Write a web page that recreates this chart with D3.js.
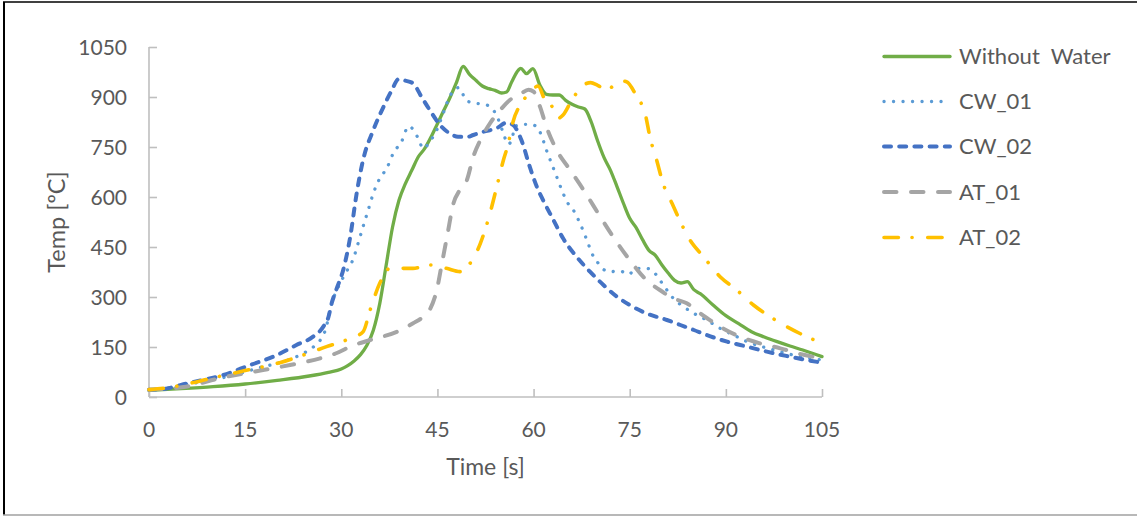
<!DOCTYPE html>
<html>
<head>
<meta charset="utf-8">
<script src="https://cdn.jsdelivr.net/npm/d3@7"></script>
<style>
  html, body { margin: 0; padding: 0; background: #fff; }
  svg { display: block; font-family: Lato, "Liberation Sans", sans-serif; }
</style>
</head>
<body>
<svg id="chart" width="1137" height="516"></svg>
<script>
// Temperature [ºC] against time [s] for each test, as [time, temperature] pairs.
const withoutWater = [[0,20],[5,25],[10,31],[15,39],[20,50],[25,63],[28,74],[30,84],[31,94],[32,108],[33,127],[34,155],[35,200],[36,280],[37,395],[38,510],[39,590],[40,640],[41,680],[42,720],[43,745],[44,780],[45,820],[46,860],[47,900],[48,945],[49,992],[50,968],[51,950],[52,933],[53,925],[54,920],[55,912],[55.8,915],[56.6,946],[57.6,980],[58,986],[58.9,970],[59.9,985],[61,935],[62,908],[63,906],[64,906],[65,890],[66,878],[67,870],[68,864],[69,825],[70,768],[71,718],[72,680],[73,632],[74,582],[75,536],[76,508],[77,472],[78,440],[79,425],[80,397],[81,372],[82,350],[83,342],[84,346],[85,322],[86,310],[88,276],[90,244],[92,220],[94,196],[96,180],[98,166],[100,153],[102,141],[105,121]];
const cw01 = [[0,22],[3,27],[6,38],[9,48],[12,60],[15,75],[17,87],[19.4,98],[22,113],[24,130],[25.5,148],[26.7,170],[27.5,200],[28.5,280],[29.8,341],[30.8,376],[31.9,416],[32.7,466],[33.4,511],[34.2,561],[35,611],[36,656],[37.1,686],[38.1,731],[39.4,766],[40.5,812],[41.2,803],[42,776],[42.8,745],[43.8,766],[44.9,801],[45.9,851],[46.9,901],[48.3,928],[49.6,888],[51.1,881],[52.7,876],[54.2,846],[55.3,791],[56,758],[56.6,771],[57.1,812],[58.4,818],[59.4,818],[60.5,811],[61.3,781],[62,741],[62.8,701],[63.6,661],[64.4,621],[65.2,586],[66.2,561],[67,531],[67.8,496],[68.5,461],[69.1,431],[70.1,401],[70.9,383],[71.9,376],[73.5,378],[74.8,368],[76.1,386],[77.6,386],[78.7,376],[79.7,351],[80.8,321],[81.8,296],[83.4,271],[85,251],[87,231],[89.1,206],[91.2,186],[93.3,166],[95.3,153],[98.5,136],[101.6,121],[105,111]];
const cw02 = [[0,22],[1.7,23],[6.4,43],[11.6,66],[15.8,96],[19.4,121],[23,156],[25.6,181],[27.2,211],[28,240],[28.5,281],[29.2,321],[30.3,381],[31.4,481],[32.4,611],[33.4,711],[35,801],[36.6,871],[37.9,921],[38.9,953],[40,949],[41.2,941],[42.5,901],[43.8,861],[45.4,816],[46.9,791],[48.2,781],[49.6,780],[50.6,786],[52.2,796],[54.2,806],[55.8,823],[56.8,816],[58.1,771],[59.4,691],[60.5,631],[61.5,590],[63.1,531],[64.6,476],[66.7,421],[68.8,376],[70.9,336],[73,301],[75,276],[77.6,251],[80.8,231],[82.9,216],[85,201],[87,186],[90.2,166],[93.3,151],[96.4,136],[99.5,123],[102.6,111],[105,103]];
const at01 = [[0,22],[5.4,30],[11.6,59],[17.8,81],[22,96],[26.7,116],[29.3,132],[31.4,151],[34.5,171],[38.7,196],[41.2,221],[42.8,241],[43.8,262],[44.9,321],[45.7,401],[46.5,481],[47.5,581],[48.5,621],[49.6,651],[50.6,721],[51.7,771],[53.2,821],[54.8,861],[56.3,891],[58.1,911],[59.2,922],[60,916],[61,871],[62,811],[63.6,741],[65.7,681],[67.8,621],[70.4,541],[72.4,481],[75,411],[77.6,351],[79.7,321],[81.8,296],[83.9,281],[86,251],[89.1,211],[92.2,181],[95.3,161],[98.5,146],[101.6,129],[105,116]];
const at02 = [[0,22],[3,28],[6.4,41],[9,53],[14.2,76],[20.4,103],[24.1,126],[27.7,151],[30.8,171],[33.4,196],[34.5,261],[36,341],[37.6,386],[39.7,386],[41.2,386],[43.8,396],[46.4,386],[48.5,376],[50.1,401],[51.7,461],[53.2,551],[54.2,626],[55.3,711],[56,756],[56.8,826],[57.9,876],[59.4,911],[60.7,933],[61.8,891],[62.6,881],[63.8,836],[64.6,846],[65.9,888],[67.8,936],[68.9,943],[70,935],[71.4,921],[73.5,949],[74.5,946],[76.1,901],[77.4,851],[78.2,776],[79.2,711],[80.2,641],[81.6,581],[82.9,526],[84.4,471],[86.5,421],[89.1,361],[91.7,321],[94.3,276],[96.9,241],[99.5,211],[102.6,181],[105,161]];

const seriesNames = ["Without  Water", "CW_01", "CW_02", "AT_01", "AT_02"];
const seriesData = [withoutWater, cw01, cw02, at01, at02];
const xTicks = [0, 15, 30, 45, 60, 75, 90, 105];
const yTicks = [0, 150, 300, 450, 600, 750, 900, 1050];

// Line styles per series
const styles = [
  { color: "#70ad47", width: 3.3, dash: null,                cap: "round" },
  { color: "#5b9bd5", width: 3.3, dash: "0.1 9.4",           cap: "round" },
  { color: "#4472c4", width: 4,   dash: "7 8.2",             cap: "round" },
  { color: "#a5a5a5", width: 4,   dash: "12.5 14.5",         cap: "round" },
  { color: "#ffc000", width: 3.6, dash: "14.4 13.6 0.1 15.6", cap: "round" }
];

const svg = d3.select("#chart");
const textColor = "#595959";
const axisColor = "#bfbfbf";

// Outer frame
svg.append("line").attr("x1", 4).attr("y1", 2).attr("x2", 4).attr("y2", 515).attr("stroke", "#000").attr("stroke-width", 2);
svg.append("line").attr("x1", 3).attr("y1", 2).attr("x2", 1137).attr("y2", 2).attr("stroke", "#000").attr("stroke-width", 1.5);
svg.append("line").attr("x1", 3).attr("y1", 515).attr("x2", 1137).attr("y2", 515).attr("stroke", "#a0a0a0").attr("stroke-width", 1.5);

const x = d3.scaleLinear().domain([0, 105]).range([149, 822]);
const y = d3.scaleLinear().domain([0, 1050]).range([397, 47]);

// Axes with inward ticks
const xAxis = svg.append("g").attr("transform", `translate(0,${y(0)})`)
  .call(d3.axisTop(x).tickValues(xTicks).tickSize(8).tickFormat(""));
const yAxis = svg.append("g").attr("transform", `translate(${x(0)},0)`)
  .call(d3.axisRight(y).tickValues(yTicks).tickSize(8).tickFormat(""));
[xAxis, yAxis].forEach(g => {
  g.selectAll("path").attr("stroke", axisColor).attr("stroke-width", 1.6);
  g.selectAll("line").attr("stroke", axisColor).attr("stroke-width", 1.6);
});
// Plain axis lines without end caps
xAxis.select(".domain").attr("d", `M${x(0)},0H${x(105)}`);
yAxis.select(".domain").attr("d", `M0,${y(0)}V${y(1050)}`);

// Tick labels
svg.append("g").selectAll("text").data(xTicks).join("text")
  .attr("x", d => x(d)).attr("y", 437)
  .attr("text-anchor", "middle").attr("fill", textColor).attr("font-size", 21)
  .text(d => d);
svg.append("g").selectAll("text").data(yTicks).join("text")
  .attr("x", 127).attr("y", d => y(d) + 7.5)
  .attr("text-anchor", "end").attr("fill", textColor).attr("font-size", 21)
  .text(d => d);

// Axis titles
svg.append("text").attr("x", x(52.5)).attr("y", 475)
  .attr("text-anchor", "middle").attr("fill", textColor).attr("font-size", 23)
  .text("Time [s]");
svg.append("text").attr("transform", `translate(65,${y(525)}) rotate(-90)`)
  .attr("text-anchor", "middle").attr("fill", textColor).attr("font-size", 23.5)
  .text("Temp [ºC]");

// Series lines
const line = d3.line().x(d => x(d[0])).y(d => y(d[1])).curve(d3.curveMonotoneX);
seriesData.forEach((data, i) => {
  const s = styles[i];
  svg.append("path").datum(data)
    .attr("d", line)
    .attr("fill", "none")
    .attr("stroke", s.color)
    .attr("stroke-width", s.width)
    .attr("stroke-linecap", s.cap)
    .attr("stroke-linejoin", "round")
    .attr("stroke-dasharray", s.dash);
});

// Legend
const legend = svg.append("g");
const legendY = [56.5, 101.5, 146.5, 192, 237.5];
seriesNames.forEach((name, i) => {
  const s = styles[i];
  legend.append("line")
    .attr("x1", 884).attr("x2", 950)
    .attr("y1", legendY[i]).attr("y2", legendY[i])
    .attr("stroke", s.color).attr("stroke-width", s.width)
    .attr("stroke-linecap", s.cap).attr("stroke-dasharray", s.dash);
  legend.append("text")
    .attr("x", 959).attr("y", legendY[i] + 7.8)
    .attr("fill", textColor).attr("font-size", 22)
    .style("white-space", "pre")
    .text(name);
});
</script>
</body>
</html>
